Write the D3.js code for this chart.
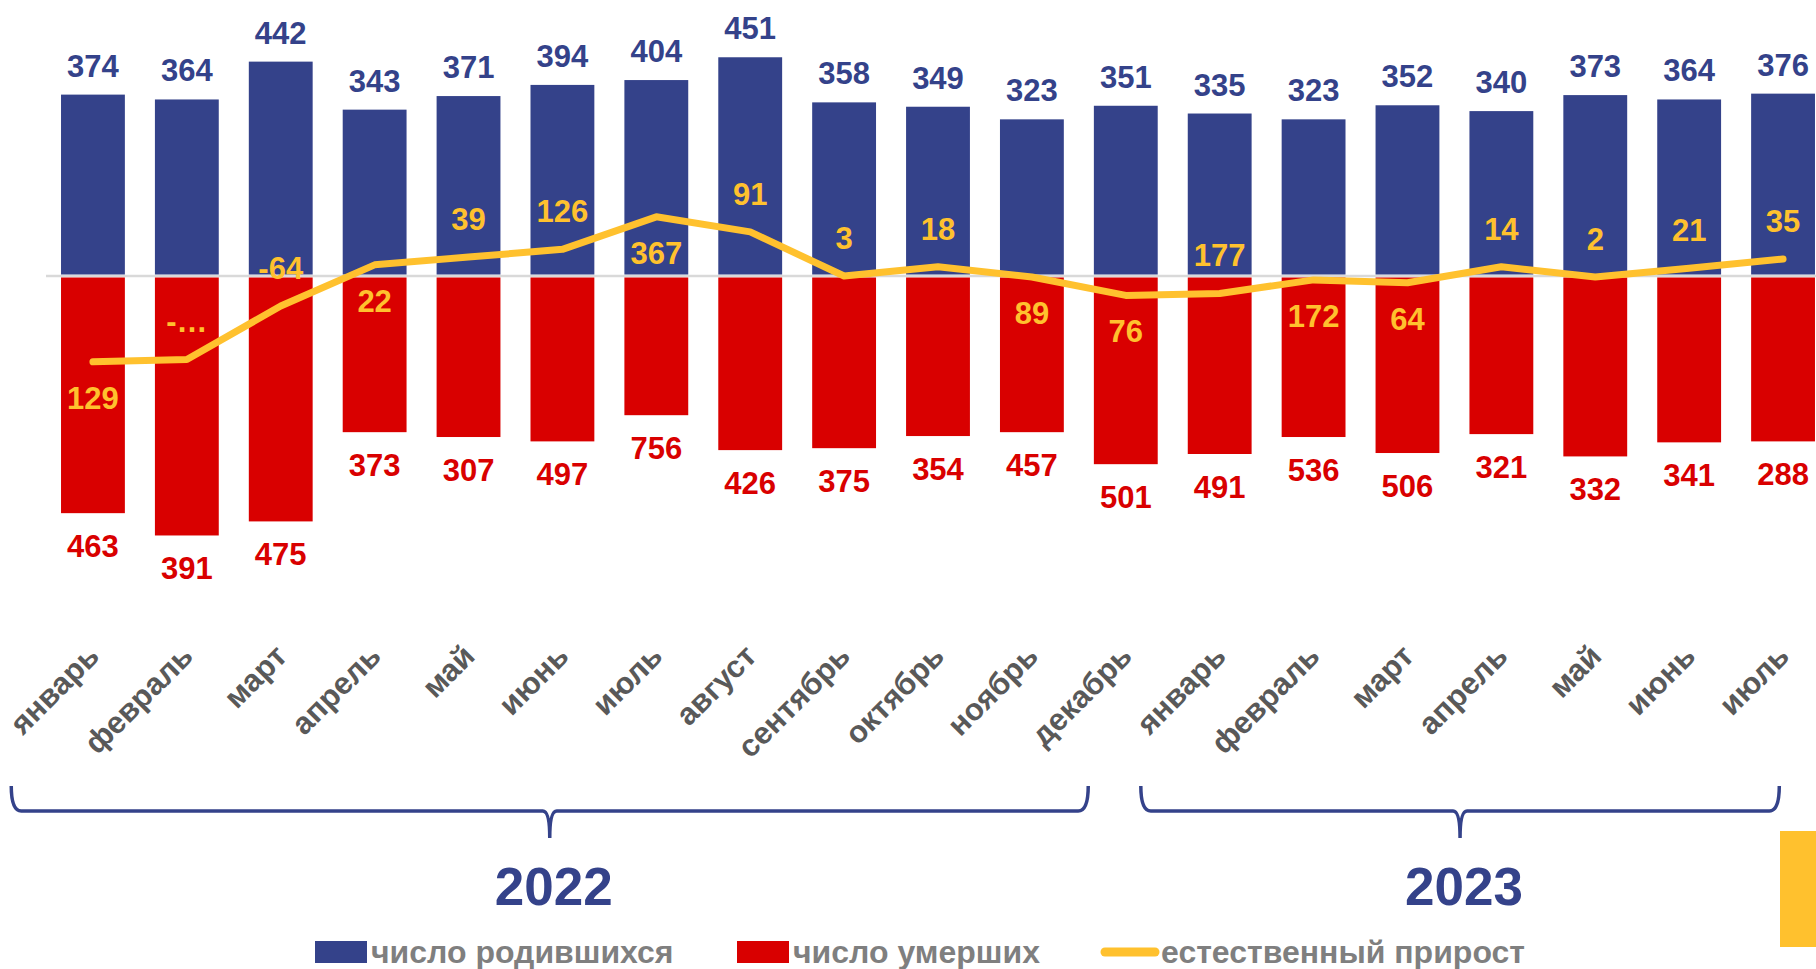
<!DOCTYPE html>
<html>
<head>
<meta charset="utf-8">
<script src="https://cdn.jsdelivr.net/npm/d3@7"></script>
<style>
  html, body { margin: 0; padding: 0; background: #fff; }
  svg { display: block; font-family: "Liberation Sans", Arial, sans-serif; }
</style>
</head>
<body>
<div id="chart"></div>
<script>
const months = ['январь', 'февраль', 'март', 'апрель', 'май', 'июнь', 'июль', 'август', 'сентябрь',
  'октябрь', 'ноябрь', 'декабрь', 'январь', 'февраль', 'март', 'апрель', 'май', 'июнь', 'июль'];

// bar / line values as drawn
const births = [374, 364, 442, 343, 371, 394, 404, 451, 358, 349, 323, 351, 335, 323, 352, 340, 373, 364, 376];
const deaths = [489, 535, 506, 322, 332, 341, 287, 359, 355, 330, 322, 388, 367, 332, 365, 326, 372, 343, 341];
const growth = [-177, -172, -62, 23, 39, 55, 122, 91, 0, 19, -2, -40, -36, -8, -14, 19, -2, 16, 35];

// data labels as printed on the chart
const birthLabels = ['374', '364', '442', '343', '371', '394', '404', '451', '358', '349', '323', '351', '335', '323', '352', '340', '373', '364', '376'];
const deathLabels = ['463', '391', '475', '373', '307', '497', '756', '426', '375', '354', '457', '501', '491', '536', '506', '321', '332', '341', '288'];
const growthLabels = ['129', '-…', '-64', '22', '39', '126', '367', '91', '3', '18', '89', '76', '177', '172', '64', '14', '2', '21', '35'];
const growthLabelSide = ['below', 'above', 'above', 'below', 'above', 'above', 'below', 'above', 'above', 'above',
  'below', 'below', 'above', 'below', 'below', 'above', 'above', 'above', 'above'];

// year braces, spans given in month-index units
const years = [
  { label: '2022', from: -0.87, to: 10.6 },
  { label: '2023', from: 11.16, to: 17.96 }
];

const legendItems = [
  { label: 'число родившихся', type: 'rect', color: '#34428a' },
  { label: 'число умерших', type: 'rect', color: '#d90000' },
  { label: 'естественный прирост', type: 'line', color: '#ffc12e' }
];

const width = 1816, height = 969;
const blue = '#34428a', red = '#d90000', yellow = '#ffc12e';

const svg = d3.select('#chart')
  .append('svg')
  .attr('width', width)
  .attr('height', height)
  .attr('viewBox', `0 0 ${width} ${height}`);

const keys = months.map((m, i) => i);

const x = d3.scaleBand()
  .domain(keys)
  .range([46, 1830])
  .paddingInner(0.32)
  .paddingOuter(0.16);

const y = d3.scaleLinear()
  .domain([-600, 600])
  .range([567, -15]);

const cx = i => x(i) + x.bandwidth() / 2;

// month index -> pixel, for annotations between bars
const xi = d3.scaleLinear()
  .domain([0, months.length - 1])
  .range([cx(0), cx(months.length - 1)]);

// zero line
svg.append('line')
  .attr('x1', 46).attr('x2', width)
  .attr('y1', y(0)).attr('y2', y(0))
  .attr('stroke', '#d9d9d9')
  .attr('stroke-width', 2.5);

// births bars
svg.append('g').selectAll('rect')
  .data(births)
  .join('rect')
  .attr('x', (d, i) => x(i))
  .attr('width', x.bandwidth())
  .attr('y', d => y(d))
  .attr('height', d => y(0) - y(d) - 1.5)
  .attr('fill', blue);

// deaths bars
svg.append('g').selectAll('rect')
  .data(deaths)
  .join('rect')
  .attr('x', (d, i) => x(i))
  .attr('width', x.bandwidth())
  .attr('y', y(0) + 1.5)
  .attr('height', d => y(-d) - y(0) - 1.5)
  .attr('fill', red);

// growth line
const line = d3.line()
  .x((d, i) => cx(i))
  .y(d => y(d));

svg.append('path')
  .datum(growth)
  .attr('d', line)
  .attr('fill', 'none')
  .attr('stroke', yellow)
  .attr('stroke-width', 7)
  .attr('stroke-linecap', 'round')
  .attr('stroke-linejoin', 'round');

// labels
const labelFont = 31;

svg.append('g').selectAll('text')
  .data(births)
  .join('text')
  .attr('x', (d, i) => cx(i))
  .attr('y', d => y(d) - 18)
  .attr('text-anchor', 'middle')
  .attr('font-size', labelFont)
  .attr('font-weight', 'bold')
  .attr('fill', blue)
  .text((d, i) => birthLabels[i]);

svg.append('g').selectAll('text')
  .data(deaths)
  .join('text')
  .attr('x', (d, i) => cx(i))
  .attr('y', d => y(-d) + 44)
  .attr('text-anchor', 'middle')
  .attr('font-size', labelFont)
  .attr('font-weight', 'bold')
  .attr('fill', red)
  .text((d, i) => deathLabels[i]);

svg.append('g').selectAll('text')
  .data(growth)
  .join('text')
  .attr('x', (d, i) => cx(i))
  .attr('y', (d, i) => growthLabelSide[i] === 'above' ? y(d) - 27 : y(d) + 47)
  .attr('text-anchor', 'middle')
  .attr('font-size', labelFont)
  .attr('font-weight', 'bold')
  .attr('fill', yellow)
  .text((d, i) => growthLabels[i]);

// month axis labels
svg.append('g').selectAll('text')
  .data(months)
  .join('text')
  .attr('transform', (d, i) => `translate(${cx(i) + 8},${658}) rotate(-45)`)
  .attr('text-anchor', 'end')
  .attr('font-size', 31)
  .attr('font-weight', 'bold')
  .attr('fill', '#595959')
  .text(d => d);

// year braces
const braceTop = 786, braceLine = 811, braceDip = 838;
const yearG = svg.append('g');
years.forEach(yr => {
  const left = xi(yr.from);
  const right = xi(yr.to);
  const mid = (left + right) / 2;
  const p = d3.path();
  p.moveTo(left, braceTop);
  p.quadraticCurveTo(left, braceLine, left + 10, braceLine);
  p.lineTo(mid - 7, braceLine);
  p.quadraticCurveTo(mid, braceLine, mid, braceDip);
  p.quadraticCurveTo(mid, braceLine, mid + 7, braceLine);
  p.lineTo(right - 10, braceLine);
  p.quadraticCurveTo(right, braceLine, right, braceTop);
  yearG.append('path')
    .attr('d', p.toString())
    .attr('fill', 'none')
    .attr('stroke', blue)
    .attr('stroke-width', 3.5);
  yearG.append('text')
    .attr('x', mid + 4)
    .attr('y', 905)
    .attr('text-anchor', 'middle')
    .attr('font-size', 53)
    .attr('font-weight', 'bold')
    .attr('fill', blue)
    .text(yr.label);
});

// legend
const legendX = [315, 737, 1101];
const legend = svg.append('g');
legendItems.forEach((item, i) => {
  const g = legend.append('g').attr('transform', `translate(${legendX[i]},952)`);
  if (item.type === 'rect') {
    g.append('rect').attr('x', 0).attr('y', -11).attr('width', 52).attr('height', 22).attr('fill', item.color);
  } else {
    g.append('line').attr('x1', 4).attr('x2', 54).attr('y1', 0).attr('y2', 0)
      .attr('stroke', item.color).attr('stroke-width', 9).attr('stroke-linecap', 'round');
  }
  g.append('text')
    .attr('x', item.type === 'rect' ? 56 : 60)
    .attr('y', 11)
    .attr('font-size', 32)
    .attr('font-weight', 'bold')
    .attr('fill', '#7f7f7f')
    .text(item.label);
});

// decorative side block
svg.append('rect')
  .attr('x', 1780).attr('y', 831)
  .attr('width', 36).attr('height', 116)
  .attr('fill', yellow);
</script>
</body>
</html>
